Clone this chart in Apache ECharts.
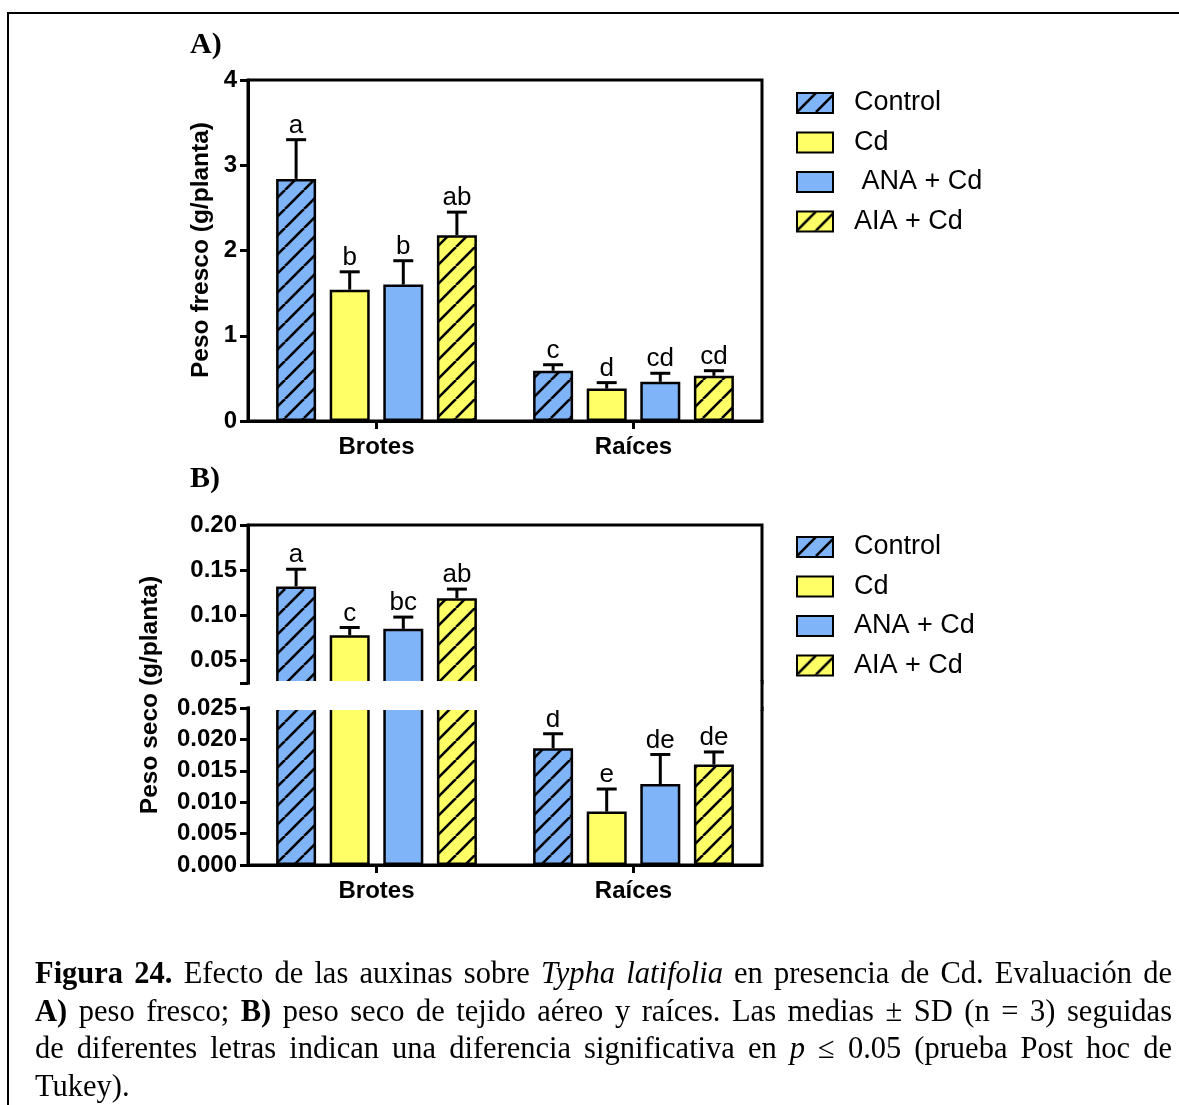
<!DOCTYPE html>
<html>
<head>
<meta charset="utf-8">
<script src="https://cdn.jsdelivr.net/npm/echarts@6/dist/echarts.min.js"></script>
<style>
  html, body { margin: 0; padding: 0; background: #fff; overflow: hidden; }
  #chart { position: absolute; left: 0; top: 0; width: 1179px; height: 1105px; }
  #frame { position: absolute; left: 7px; top: 12px; width: 1300px; height: 1300px;
           border-top: 2px solid #000; border-left: 2px solid #000; pointer-events: none; }
  #caption { position: absolute; left: 35px; top: 955px; width: 1137px;
             font-family: "Liberation Serif", "Times New Roman", serif; font-size: 30.5px;
             line-height: 37.7px; color: #000; }
  #caption .j { text-align: justify; text-align-last: justify; }
</style>
</head>
<body>
<div id="chart"></div>
<div id="frame"></div>
<div id="caption">
  <div class="j"><b>Figura 24.</b> Efecto de las auxinas sobre <i>Typha latifolia</i> en presencia de Cd. Evaluación de</div>
  <div class="j"><b>A)</b> peso fresco; <b>B)</b> peso seco de tejido aéreo y raíces. Las medias ± SD (n = 3) seguidas</div>
  <div class="j">de diferentes letras indican una diferencia significativa en <i>p</i> ≤ 0.05 (prueba Post hoc de</div>
  <div>Tukey).</div>
</div>
<script>
// ---------------- DATA ----------------
const categories = ['Brotes', 'Raíces'];
const seriesNames = ['Control', 'Cd', 'ANA + Cd', 'AIA + Cd'];

// Panel A: peso fresco (g/planta)
const freshBrotes   = [2.84, 1.54, 1.60, 2.18];
const freshBrotesSD = [0.46, 0.21, 0.28, 0.27];
const freshRaices   = [0.59, 0.38, 0.46, 0.53];
const freshRaicesSD = [0.07, 0.07, 0.10, 0.06];
const freshLettersBrotes = ['a', 'b', 'b', 'ab'];
const freshLettersRaices = ['c', 'd', 'cd', 'cd'];
const freshTicks = [0, 1, 2, 3, 4];

// Panel B: peso seco (g/planta)
const dryBrotes   = [0.132, 0.078, 0.085, 0.119];
const dryBrotesSD = [0.019, 0.0085, 0.013, 0.010];
const dryRaices   = [0.0186, 0.0085, 0.0129, 0.0160];
const dryRaicesSD = [0.0023, 0.0036, 0.0047, 0.0020];
const dryLettersBrotes = ['a', 'c', 'bc', 'ab'];
const dryLettersRaices = ['d', 'e', 'de', 'de'];
const dryUpperTicks = [0.05, 0.10, 0.15, 0.20];
const dryUpperBreak = 0.025;
const dryLowerTicks = [0.000, 0.005, 0.010, 0.015, 0.020, 0.025];

// ---------------- STYLE ----------------
const BLUE = '#80b4f8';
const YELLOW = '#ffff66';
const BAR_W = 40;
const BAR_GAP = 0.34;
const SANS = 'Liberation Sans';

function hatch(bg) {
  const s = 19;
  const c = document.createElement('canvas');
  c.width = s; c.height = s;
  const ctx = c.getContext('2d');
  ctx.fillStyle = bg; ctx.fillRect(0, 0, s, s);
  ctx.strokeStyle = '#000'; ctx.lineWidth = 2.6;
  for (const o of [-s, 0, s]) {
    ctx.beginPath(); ctx.moveTo(o, s); ctx.lineTo(o + s, 0); ctx.stroke();
  }
  return c;
}
const fills = [
  { image: hatch(BLUE), repeat: 'repeat' },
  YELLOW,
  BLUE,
  { image: hatch(YELLOW), repeat: 'repeat' }
];

const chart = echarts.init(document.getElementById('chart'), null, { renderer: 'canvas' });

const grids = [
  { left: 248, top: 80, width: 514, height: 341, show: true, borderColor: '#000', borderWidth: 3 },
  { left: 248, top: 525, width: 514, height: 158, show: true, borderColor: '#000', borderWidth: 3 },
  { left: 248, top: 708, width: 514, height: 157, show: true, borderColor: '#000', borderWidth: 3 }
];

const axisLineStyle = { show: true, lineStyle: { color: '#000', width: 3 } };
const tickStyle = { show: true, inside: false, length: 8, lineStyle: { color: '#000', width: 3 } };
const labelFont = { color: '#000', fontFamily: SANS, fontWeight: 'bold', fontSize: 24 };

const xAxes = [0, 1, 2].map(g => ({
  type: 'category', gridIndex: g, data: categories, show: g !== 1,
  axisLine: axisLineStyle,
  axisTick: Object.assign({ alignWithLabel: true }, tickStyle),
  axisLabel: Object.assign({}, labelFont, { margin: 14 }),
  splitLine: { show: false }
}));

const yAxes = [
  { type: 'value', gridIndex: 0, min: 0, max: 4, interval: 1,
    axisLine: axisLineStyle, axisTick: tickStyle,
    axisLabel: Object.assign({}, labelFont, { margin: 11 }),
    splitLine: { show: false } },
  { type: 'value', gridIndex: 1, min: dryUpperBreak, max: 0.20,
    axisLine: axisLineStyle,
    axisTick: Object.assign({ customValues: [dryUpperBreak].concat(dryUpperTicks) }, tickStyle),
    axisLabel: Object.assign({}, labelFont, { margin: 11, customValues: dryUpperTicks, formatter: v => v.toFixed(2) }),
    splitLine: { show: false } },
  { type: 'value', gridIndex: 2, min: 0, max: 0.025,
    axisLine: axisLineStyle,
    axisTick: Object.assign({ customValues: dryLowerTicks }, tickStyle),
    axisLabel: Object.assign({}, labelFont, { margin: 11, customValues: dryLowerTicks, formatter: v => v.toFixed(3) }),
    splitLine: { show: false } }
];

function barSeries(g, name, i, data) {
  return {
    type: 'bar', name: name, xAxisIndex: g, yAxisIndex: g,
    data: data, barWidth: BAR_W, barGap: (BAR_GAP * 100) + '%', clip: true,
    itemStyle: { color: fills[i], borderColor: '#000', borderWidth: 2.5 },
    emphasis: { disabled: true }, z: 2
  };
}

function errSeries(g, items, letters) {
  return {
    type: 'custom', xAxisIndex: g, yAxisIndex: g, z: 5, silent: true,
    data: items,
    renderItem: function (params, api) {
      const cat = api.value(0), idx = api.value(1), mean = api.value(2), sd = api.value(3);
      const p0 = api.coord([cat, mean]);
      const p1 = api.coord([cat, mean + sd]);
      const x = p0[0] + (idx - 1.5) * BAR_W * (1 + BAR_GAP);
      const stroke = { stroke: '#000', lineWidth: 3 };
      return {
        type: 'group',
        children: [
          { type: 'line', shape: { x1: x, y1: p0[1], x2: x, y2: p1[1] }, style: stroke },
          { type: 'line', shape: { x1: x - 10, y1: p1[1], x2: x + 10, y2: p1[1] }, style: stroke },
          { type: 'text', style: { text: letters[params.dataIndex], x: x, y: p1[1] - 1,
              align: 'center', verticalAlign: 'bottom', fill: '#000',
              fontFamily: SANS, fontSize: 26 } }
        ]
      };
    }
  };
}

const series = [];
seriesNames.forEach((n, i) => series.push(barSeries(0, n, i, [freshBrotes[i], freshRaices[i]])));
seriesNames.forEach((n, i) => series.push(barSeries(1, n, i, [dryBrotes[i], '-'])));
seriesNames.forEach((n, i) => series.push(barSeries(2, n, i, [dryBrotes[i], dryRaices[i]])));

const freshItems = [], freshLetters = [];
seriesNames.forEach((n, i) => { freshItems.push([0, i, freshBrotes[i], freshBrotesSD[i]]); freshLetters.push(freshLettersBrotes[i]); });
seriesNames.forEach((n, i) => { freshItems.push([1, i, freshRaices[i], freshRaicesSD[i]]); freshLetters.push(freshLettersRaices[i]); });
series.push(errSeries(0, freshItems, freshLetters));

const dryUpItems = [], dryUpLetters = [];
seriesNames.forEach((n, i) => { dryUpItems.push([0, i, dryBrotes[i], dryBrotesSD[i]]); dryUpLetters.push(dryLettersBrotes[i]); });
series.push(errSeries(1, dryUpItems, dryUpLetters));

const dryLowItems = [], dryLowLetters = [];
seriesNames.forEach((n, i) => { dryLowItems.push([1, i, dryRaices[i], dryRaicesSD[i]]); dryLowLetters.push(dryLettersRaices[i]); });
series.push(errSeries(2, dryLowItems, dryLowLetters));

function legend(top, fmt) {
  return {
    orient: 'vertical', left: 796, top: top, padding: 0,
    itemWidth: 36, itemHeight: 20, itemGap: 12.5, icon: 'rect',
    data: seriesNames, selectedMode: false,
    formatter: fmt,
    textStyle: { color: '#000', fontFamily: SANS, fontSize: 27, padding: [0, 0, 0, 16] }
  };
}

chart.setOption({
  backgroundColor: '#fff',
  animation: false,
  grid: grids,
  xAxis: xAxes,
  yAxis: yAxes,
  legend: [
    legend(89.5, n => (n === 'ANA + Cd' ? ' ANA + Cd' : n)),
    legend(533.5, n => n)
  ],
  series: series,
  graphic: [
    { type: 'rect', z: 100, shape: { x: 250, y: 681, width: 511, height: 29 }, style: { fill: '#fff' } },
    { type: 'line', z: 100, shape: { x1: 762, y1: 680, x2: 762, y2: 711 }, style: { stroke: '#000', lineWidth: 3 } },
    { type: 'text', z: 100, x: 201, y: 250, rotation: Math.PI / 2,
      style: { text: 'Peso fresco (g/planta)', align: 'center', verticalAlign: 'middle',
               fill: '#000', fontFamily: SANS, fontWeight: 'bold', fontSize: 24.5 } },
    { type: 'text', z: 100, x: 150, y: 695, rotation: Math.PI / 2,
      style: { text: 'Peso seco (g/planta)', align: 'center', verticalAlign: 'middle',
               fill: '#000', fontFamily: SANS, fontWeight: 'bold', fontSize: 24.5 } },
    { type: 'text', z: 100, x: 190, y: 45,
      style: { text: 'A)', align: 'left', verticalAlign: 'middle',
               fill: '#000', fontFamily: 'Liberation Serif', fontWeight: 'bold', fontSize: 30 } },
    { type: 'text', z: 100, x: 190, y: 479,
      style: { text: 'B)', align: 'left', verticalAlign: 'middle',
               fill: '#000', fontFamily: 'Liberation Serif', fontWeight: 'bold', fontSize: 30 } }
  ]
});
</script>
</body>
</html>
